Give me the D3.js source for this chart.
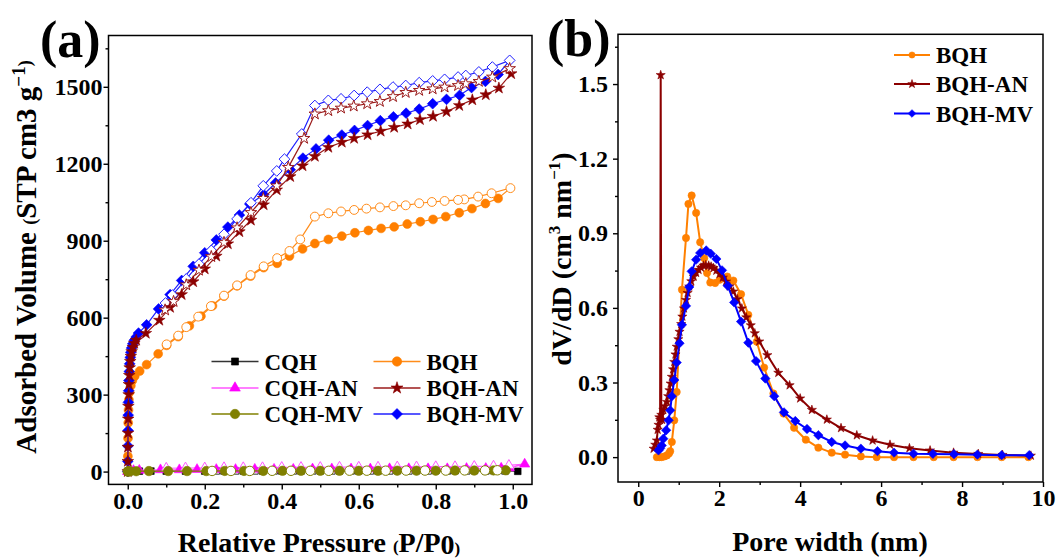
<!DOCTYPE html>
<html><head><meta charset="utf-8">
<script src="https://cdn.jsdelivr.net/npm/d3@7"></script>
<style>
body{margin:0;background:#fff}
svg{display:block}
text{font-family:"Liberation Serif","Times New Roman",serif;font-weight:bold;fill:#000}
</style></head><body>
<svg id="c" width="1056" height="559"></svg>
<script>
// ---------------- Panel (a) data : N2 isotherms ----------------
const cqhAdsP = [0,0.0005,0.002,0.006,0.015,0.03,0.06,0.1,0.15,0.2,0.25,0.3,0.35,0.4,0.45,0.5,0.55,0.6,0.65,0.7,0.75,0.8,0.85,0.9,0.95,1.013];
const cqhAdsV = [0,0.5,1,1,1.5,1.5,2,2,2,2,2.5,2.5,2.5,2.5,3,3,3,3,3,3.5,3.5,3.5,3.5,4,4,1];
const cqhDesP = [0.98,0.93,0.88,0.83,0.78,0.73,0.68,0.63,0.58,0.53,0.48,0.43,0.38,0.33,0.28,0.23];
const cqhDesV = [3,3,3,3,3,3,3,3,3,3,3,3,3,3,3,3];

const cqhanAdsP = [0,0.0005,0.002,0.006,0.015,0.03,0.085,0.134,0.18,0.23,0.28,0.33,0.38,0.43,0.48,0.53,0.58,0.63,0.68,0.73,0.78,0.83,0.88,0.93,0.97,0.991,1.031];
const cqhanAdsV = [0,1,2,3,4,5,7,7,8,8,8,9,9,9,10,10,10,10,11,11,11,11,12,12,13,14,29];
const cqhanDesP = [0.99,0.95,0.9,0.85,0.8,0.75,0.7,0.65,0.6,0.55,0.5,0.45,0.4,0.35,0.3,0.25,0.2,0.15,0.1];
const cqhanDesV = [24,21,20,19,19,18,18,17,17,17,16,16,16,15,15,15,14,14,13];

const cqhmvAdsP = [0,0.0005,0.002,0.006,0.022,0.055,0.105,0.154,0.204,0.252,0.302,0.352,0.402,0.45,0.5,0.55,0.6,0.65,0.7,0.75,0.8,0.85,0.9,0.95,0.982];
const cqhmvAdsV = [0,0.5,1,1,1.5,2,2,2,2,2.5,2.5,2.5,3,3,3,3,3,3,3.5,3.5,3.5,4,4,4.5,5];
const cqhmvDesP = [0.96,0.928,0.875,0.826,0.772,0.723,0.67,0.621,0.576,0.522,0.474,0.424,0.375,0.317,0.268,0.219];
const cqhmvDesV = [5,4.5,4.5,4,4,4,3.5,3.5,3.5,3,3,3,3,2.5,2.5,2.5];

const bqhAdsP = [0,0.0003,0.0007,0.0012,0.002,0.003,0.005,0.008,0.012,0.018,0.031,0.049,0.079,0.101,0.131,0.16,0.19,0.22,0.25,0.284,0.319,0.353,0.388,0.42,0.454,0.486,0.521,0.556,0.59,0.625,0.658,0.692,0.726,0.76,0.793,0.826,0.861,0.894,0.929,0.962];
const bqhAdsV = [0,60,130,190,240,280,310,335,355,372,392,417,459,492,526,568,606,646,684,724,762,795,812,840,868,889,905,918,931,940,948,954,965,974,983,994,1009,1025,1045,1065];
const bqhDesP = [0.994,0.945,0.91,0.874,0.858,0.823,0.79,0.757,0.722,0.69,0.655,0.62,0.588,0.554,0.521,0.486,0.448,0.42,0.388,0.353,0.319,0.284,0.25,0.216,0.183,0.152,0.131,0.101];
const bqhDesV = [1105,1085,1072,1061,1059,1055,1051,1046,1038,1035,1030,1025,1020,1014,1007,994,905,860,832,800,766,726,686,645,604,563,530,496];

const bqhanAdsP = [0,0.0002,0.0005,0.0008,0.0012,0.0017,0.0023,0.003,0.004,0.005,0.0065,0.008,0.01,0.013,0.017,0.022,0.047,0.082,0.11,0.14,0.17,0.2,0.23,0.26,0.29,0.32,0.353,0.387,0.422,0.454,0.486,0.521,0.556,0.588,0.623,0.657,0.692,0.727,0.759,0.793,0.828,0.861,0.895,0.93,0.964,0.996];
const bqhanAdsV = [0,40,95,150,205,255,300,340,375,405,430,450,468,485,500,512,539,590,640,690,740,790,840,888,935,980,1040,1098,1150,1192,1229,1264,1284,1299,1313,1327,1342,1355,1372,1385,1403,1427,1449,1469,1495,1551];
const bqhanDesP = [0.992,0.947,0.912,0.878,0.858,0.823,0.792,0.757,0.722,0.689,0.655,0.622,0.587,0.554,0.521,0.486,0.458,0.417,0.387,0.352,0.32,0.284,0.25,0.217,0.185,0.152,0.119,0.097];
const bqhanDesV = [1571,1538,1521,1512,1505,1499,1492,1486,1478,1462,1443,1434,1425,1417,1407,1394,1299,1186,1114,1065,1010,950,893,838,785,728,663,630];

const bqhmvAdsP = [0,0.0002,0.0005,0.0008,0.0012,0.0017,0.0023,0.003,0.004,0.005,0.0065,0.008,0.01,0.013,0.017,0.022,0.028,0.049,0.08,0.11,0.14,0.17,0.2,0.23,0.26,0.29,0.317,0.353,0.384,0.422,0.455,0.489,0.522,0.556,0.589,0.623,0.656,0.69,0.723,0.757,0.792,0.828,0.862,0.893,0.929,0.962];
const bqhmvAdsV = [0,40,100,160,220,270,315,355,390,420,445,465,482,498,512,525,540,572,634,690,745,800,853,903,953,1000,1043,1080,1125,1177,1222,1258,1292,1312,1330,1349,1368,1383,1397,1413,1434,1451,1467,1497,1521,1548];
const bqhmvDesP = [0.992,0.947,0.912,0.878,0.858,0.823,0.792,0.757,0.722,0.689,0.655,0.622,0.588,0.554,0.521,0.486,0.452,0.407,0.387,0.352,0.32,0.284,0.25,0.217,0.185,0.152,0.116,0.098];
const bqhmvDesV = [1603,1577,1558,1544,1538,1529,1523,1516,1505,1499,1490,1479,1466,1453,1447,1427,1316,1218,1172,1114,1048,985,925,862,809,751,688,657];

const xTicksA = [0,0.2,0.4,0.6,0.8,1.0];
const xMinorA = [0.1,0.3,0.5,0.7,0.9];
const yTicksA = [0,300,600,900,1200,1500];
const yMinorA = [150,450,750,1050,1350,1650];

// ---------------- Panel (b) data : pore size distribution ----------------
const bqhW = [0.46,0.52,0.58,0.65,0.71,0.76,0.79,0.83,0.89,0.95,1.08,1.18,1.24,1.32,1.43,1.53,1.63,1.7,1.78,1.9,2.01,2.2,2.35,2.54,2.72,2.93,3.11,3.34,3.59,3.85,4.14,4.45,4.78,5.11,5.5,5.89,6.32,6.8,7.3,7.79,8.38,8.98,9.64];
const bqhD = [0.0,0.0,0.0,0.003,0.007,0.015,0.024,0.061,0.148,0.262,0.673,0.881,1.018,1.052,0.982,0.864,0.8,0.74,0.702,0.7,0.713,0.726,0.71,0.655,0.572,0.464,0.36,0.256,0.175,0.118,0.07,0.038,0.018,0.01,0.003,0.0,0.0,0.0,0.0,0.0,0.0,0.0,0.0];

const bqhanW = [0.38,0.42,0.46,0.48,0.5,0.52,0.54,0.555,0.57,0.59,0.62,0.66,0.71,0.74,0.77,0.8,0.83,0.86,0.89,0.92,0.95,0.99,1.02,1.06,1.09,1.13,1.18,1.22,1.26,1.31,1.37,1.43,1.49,1.55,1.61,1.67,1.74,1.8,1.86,1.93,2.01,2.09,2.17,2.26,2.35,2.45,2.56,2.67,2.78,2.88,2.99,3.19,3.46,3.74,4.0,4.29,4.66,5.01,5.4,5.79,6.22,6.7,7.21,7.79,8.4,9.0,9.7];
const bqhanD = [0.034,0.05,0.067,0.11,0.13,0.16,0.15,1.536,0.17,0.15,0.19,0.205,0.222,0.245,0.269,0.296,0.323,0.353,0.383,0.413,0.444,0.474,0.504,0.535,0.565,0.598,0.632,0.66,0.686,0.707,0.726,0.741,0.753,0.762,0.77,0.772,0.77,0.766,0.76,0.75,0.737,0.722,0.706,0.687,0.666,0.635,0.598,0.562,0.53,0.498,0.465,0.41,0.339,0.289,0.236,0.19,0.151,0.117,0.088,0.067,0.05,0.036,0.027,0.018,0.013,0.009,0.006];

const bqhmvW = [0.5,0.54,0.58,0.62,0.69,0.75,0.79,0.83,0.89,0.95,1.02,1.08,1.18,1.26,1.32,1.43,1.53,1.68,1.79,1.93,2.07,2.21,2.37,2.54,2.72,2.91,3.14,3.36,3.6,3.88,4.17,4.45,4.78,5.11,5.5,5.91,6.32,6.8,7.28,7.8,8.38,8.98,9.66];
const bqhmvD = [0.027,0.035,0.047,0.074,0.108,0.148,0.188,0.245,0.31,0.38,0.458,0.532,0.608,0.684,0.747,0.794,0.821,0.831,0.818,0.797,0.751,0.689,0.622,0.545,0.46,0.386,0.316,0.245,0.18,0.145,0.113,0.088,0.061,0.047,0.034,0.024,0.018,0.014,0.013,0.012,0.01,0.008,0.008];

const xTicksB = [0,2,4,6,8,10];
const xMinorB = [1,3,5,7,9];
const yTicksB = [0,0.3,0.6,0.9,1.2,1.5];
const yMinorB = [0.15,0.45,0.75,1.05,1.35,1.65];

// ---------------- helpers ----------------
const svg = d3.select("#c");
const diamond = {draw(ctx, size){ const r = Math.sqrt(size/2); ctx.moveTo(0,-r); ctx.lineTo(r,0); ctx.lineTo(0,r); ctx.lineTo(-r,0); ctx.closePath(); }};
const shapes = {square:d3.symbolSquare, triangle:d3.symbolTriangle, circle:d3.symbolCircle, star:d3.symbolStar, diamond:diamond};

function zip(a,b){ return a.map((v,i)=>[v,b[i]]); }

function drawAxes(g, x, y, o){
  const [x0,x1] = x.range(), [y0,y1] = y.range();
  g.append("g").attr("transform",`translate(0,${y0})`)
    .call(d3.axisBottom(x).tickValues(o.xt).tickSize(5).tickPadding(o.xpad).tickFormat(o.xf));
  g.append("g").attr("transform",`translate(0,${y0})`)
    .call(d3.axisBottom(x).tickValues(o.xm).tickSize(3).tickFormat(""));
  g.append("g").attr("transform",`translate(${x0},0)`)
    .call(d3.axisLeft(y).tickValues(o.yt).tickSize(5).tickPadding(o.ypad).tickFormat(o.yf));
  g.append("g").attr("transform",`translate(${x0},0)`)
    .call(d3.axisLeft(y).tickValues(o.ym).tickSize(3).tickFormat(""));
  g.selectAll(".domain").remove();
  g.selectAll(".tick line").attr("stroke","#000").attr("stroke-width",1.4);
  g.selectAll(".tick text").style("font-size","24px").style("font-family",'"Liberation Serif",serif').style("font-weight","bold").attr("fill","#000");
  g.append("rect").attr("x",x0).attr("y",y1).attr("width",x1-x0).attr("height",y0-y1)
    .attr("fill","none").attr("stroke","#000").attr("stroke-width",1.5);
}

function series(g, x, y, pts, color, shape, size, lw, openPts, lineColor){
  const all = openPts ? pts.concat(openPts) : pts;
  g.append("path").datum(all)
    .attr("d", d3.line().x(d=>x(d[0])).y(d=>y(d[1])))
    .attr("fill","none").attr("stroke", lineColor||color).attr("stroke-width", lw).attr("stroke-linejoin","round");
  const sym = d3.symbol().type(shapes[shape]).size(size);
  g.append("g").selectAll("path").data(pts).join("path")
    .attr("transform", d=>`translate(${x(d[0])},${y(d[1])})`)
    .attr("d", sym).attr("fill", color).attr("stroke", color).attr("stroke-width",0.6);
  if(openPts){
    g.append("g").selectAll("path").data(openPts).join("path")
      .attr("transform", d=>`translate(${x(d[0])},${y(d[1])})`)
      .attr("d", sym).attr("fill", "#fff").attr("stroke", lineColor||color).attr("stroke-width",1);
  }
}

// ---------------- Panel (a) ----------------
const xa = d3.scaleLinear([-0.05,1.05],[108.5,532]);
const ya = d3.scaleLinear([-50,1700],[484.4,35.5]);
const ga = svg.append("g");
svg.append("clipPath").attr("id","ca").append("rect").attr("x",108.5).attr("y",35.5).attr("width",423.5).attr("height",448.9);

const dataA = ga.append("g").attr("clip-path","url(#ca)");
const colA = {cqh:"#000000", cqhan:"#FF00FF", cqhmv:"#808000", bqh:"#FF7F00", bqhan:"#8B0000", bqhmv:"#0000FF"};
series(dataA, xa, ya, zip(cqhAdsP,cqhAdsV), colA.cqh, "square", 45, 1.2, zip(cqhDesP,cqhDesV), "#333");
series(dataA, xa, ya, zip(cqhanAdsP,cqhanAdsV), colA.cqhan, "triangle", 45, 1.2, zip(cqhanDesP,cqhanDesV), "#FF55FF");
series(dataA, xa, ya, zip(bqhAdsP,bqhAdsV), colA.bqh, "circle", 62, 1.2, zip(bqhDesP,bqhDesV), "#FF8C1A");
series(dataA, xa, ya, zip(bqhmvAdsP,bqhmvAdsV), colA.bqhmv, "diamond", 58, 1.2, zip(bqhmvDesP,bqhmvDesV), "#2020FF");
series(dataA, xa, ya, zip(bqhanAdsP,bqhanAdsV), colA.bqhan, "star", 42, 1.2, zip(bqhanDesP,bqhanDesV), "#9B1B1B");
series(dataA, xa, ya, zip(cqhmvAdsP,cqhmvAdsV), colA.cqhmv, "circle", 70, 1.2, zip(cqhmvDesP,cqhmvDesV), "#808000");

drawAxes(ga, xa, ya, {xt:xTicksA, xm:xMinorA, yt:yTicksA, ym:yMinorA, xf:d3.format(".1f"), yf:d3.format("d"), xpad:3, ypad:1});

// legend (a)
const legA = [
  {n:"CQH", c:colA.cqh, lc:"#333", s:"square", z:50, col:0, row:0},
  {n:"CQH-AN", c:colA.cqhan, lc:"#FF55FF", s:"triangle", z:50, col:0, row:1},
  {n:"CQH-MV", c:colA.cqhmv, lc:"#808000", s:"circle", z:70, col:0, row:2},
  {n:"BQH", c:colA.bqh, lc:"#FF8C1A", s:"circle", z:70, col:1, row:0},
  {n:"BQH-AN", c:colA.bqhan, lc:"#9B1B1B", s:"star", z:45, col:1, row:1},
  {n:"BQH-MV", c:colA.bqhmv, lc:"#2020FF", s:"diamond", z:60, col:1, row:2}
];
const legAx = [211.5, 373.5], legAy = [361.5, 388, 414];
legA.forEach(d=>{
  const lx = legAx[d.col], ly = legAy[d.row];
  ga.append("line").attr("x1",lx).attr("x2",lx+47).attr("y1",ly).attr("y2",ly).attr("stroke",d.lc).attr("stroke-width",1.3);
  ga.append("path").attr("transform",`translate(${lx+23.5},${ly})`).attr("d",d3.symbol().type(shapes[d.s]).size(d.z)()).attr("fill",d.c).attr("stroke",d.c).attr("stroke-width",0.6);
  ga.append("text").attr("x",lx+53).attr("y",ly+8).style("font-size","23px").text(d.n);
});

ga.append("text").attr("x",40).attr("y",57).style("font-size","52px").text("(a)");
// y label (a)
const yla = ga.append("text").attr("transform","translate(36,257) rotate(-90)").attr("text-anchor","middle").style("font-size","29px");
yla.append("tspan").text("Adsorbed Volume ");
yla.append("tspan").style("font-size","18px").text("(");
yla.append("tspan").text("STP cm3 g");
yla.append("tspan").attr("dy",-11).style("font-size","19px").text("\u22121");
yla.append("tspan").attr("dy",6).style("font-size","18px").text(")");
// x label (a)
const xla = ga.append("text").attr("x",319).attr("y",552).attr("text-anchor","middle").style("font-size","28px");
xla.append("tspan").text("Relative Pressure ");
xla.append("tspan").style("font-size","17px").text("(");
xla.append("tspan").text("P/P");
xla.append("tspan").attr("dy",2).text("0");
xla.append("tspan").style("font-size","17px").text(")");

// ---------------- Panel (b) ----------------
const xb = d3.scaleLinear([-0.5,10],[618,1043]);
const yb = d3.scaleLinear([-0.1,1.7],[482,34.3]);
const gb = svg.append("g");
svg.append("clipPath").attr("id","cb").append("rect").attr("x",618).attr("y",34.3).attr("width",425).attr("height",447.7);
const dataB = gb.append("g").attr("clip-path","url(#cb)");
const colB = {bqh:"#FF8000", bqhan:"#8B0000", bqhmv:"#0000FF"};
series(dataB, xb, yb, zip(bqhW,bqhD), colB.bqh, "circle", 42, 2, null);
series(dataB, xb, yb, zip(bqhanW,bqhanD), colB.bqhan, "star", 26, 2, null);
series(dataB, xb, yb, zip(bqhmvW,bqhmvD), colB.bqhmv, "diamond", 44, 2, null);

drawAxes(gb, xb, yb, {xt:xTicksB, xm:xMinorB, yt:yTicksB, ym:yMinorB, xf:d3.format("d"), yf:d3.format(".1f"), xpad:2, ypad:5});

const legB = [
  {n:"BQH", c:colB.bqh, s:"circle", z:30},
  {n:"BQH-AN", c:colB.bqhan, s:"star", z:22},
  {n:"BQH-MV", c:colB.bqhmv, s:"diamond", z:30}
];
const legBy = [55, 84, 113.5];
legB.forEach((d,i)=>{
  const lx = 894, ly = legBy[i];
  gb.append("line").attr("x1",lx).attr("x2",lx+36).attr("y1",ly).attr("y2",ly).attr("stroke",d.c).attr("stroke-width",2);
  gb.append("path").attr("transform",`translate(${lx+18},${ly})`).attr("d",d3.symbol().type(shapes[d.s]).size(d.z)()).attr("fill",d.c).attr("stroke",d.c).attr("stroke-width",0.6);
  gb.append("text").attr("x",lx+42).attr("y",ly+8).style("font-size","23px").text(d.n);
});

gb.append("text").attr("x",547).attr("y",56).style("font-size","52px").text("(b)");
const ylb = gb.append("text").attr("transform","translate(571,259) rotate(-90)").attr("text-anchor","middle").style("font-size","28px");
ylb.append("tspan").text("dV/dD (cm");
ylb.append("tspan").attr("dy",-11).style("font-size","17px").text("3");
ylb.append("tspan").attr("dy",11).text(" nm");
ylb.append("tspan").attr("dy",-11).style("font-size","17px").text("\u22121");
ylb.append("tspan").attr("dy",11).text(")");
gb.append("text").attr("x",830).attr("y",551).attr("text-anchor","middle").style("font-size","28px").text("Pore width (nm)");
</script></body></html>
